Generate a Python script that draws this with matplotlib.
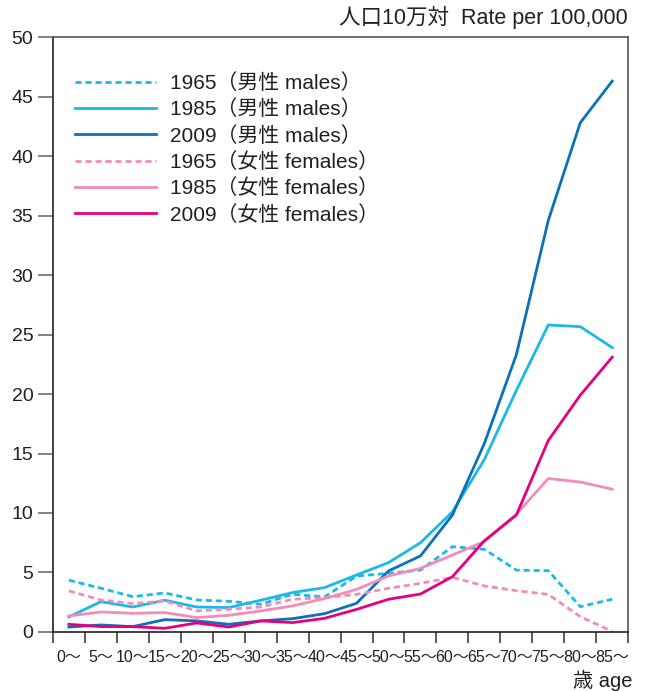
import numpy as np
import matplotlib
matplotlib.use("Agg")
import matplotlib.pyplot as plt

plt.rcParams['font.family'] = ['Liberation Sans', 'Noto Sans CJK JP', 'DejaVu Sans']

# age groups
ages = ["0", "5", "10", "15", "20", "25", "30", "35", "40",
        "45", "50", "55", "60", "65", "70", "75", "80", "85"]

# rates per 100,000
male_1965 = [4.35, 3.68, 2.97, 3.28, 2.69, 2.58, 2.33, 3.17, 2.95,
             4.7, 4.93, 5.2, 7.17, 6.95, 5.2, 5.15, 2.13, 2.75]
male_1985 = [1.26, 2.55, 2.1, 2.67, 2.1, 2.05, 2.67, 3.31, 3.73,
             4.79, 5.83, 7.5, 10.1, 14.5, 20.3, 25.8, 25.66, 23.9]
male_2009 = [0.42, 0.59, 0.45, 1.04, 0.93, 0.65, 0.93, 1.12, 1.54,
             2.41, 5.13, 6.39, 9.83, 15.85, 23.3, 34.6, 42.8, 46.3]
female_1965 = [3.45, 2.69, 2.39, 2.61, 1.77, 1.91, 2.1, 2.75, 2.89,
               3.16, 3.67, 4.09, 4.59, 3.87, 3.47, 3.16, 1.29, 0.05]
female_1985 = [1.35, 1.68, 1.57, 1.63, 1.21, 1.4, 1.77, 2.19, 2.81,
               3.58, 4.7, 5.35, 6.47, 7.6, 9.9, 12.9, 12.6, 12.0]
female_2009 = [0.65, 0.45, 0.45, 0.31, 0.76, 0.42, 0.93, 0.79, 1.15,
               1.9, 2.75, 3.19, 4.65, 7.67, 9.83, 16.1, 19.9, 23.1]

labels = ["1965（男性 males）", "1985（男性 males）", "2009（男性 males）",
          "1965（女性 females）", "1985（女性 females）", "2009（女性 females）"]

c_light = "#1ab9e8"
c_dark = "#0a72b8"
c_pink = "#f38cb8"
c_mag = "#e5007f"

fig = plt.figure(figsize=(6.45, 6.91), dpi=100)
ax = fig.add_axes([0.082, 0.0854, 0.892, 0.861])

x = np.arange(len(ages))
lw = 2.0
dash = (0, (2.2, 1.4))
ax.plot(x, male_1965, color=c_light, lw=lw, ls=dash, label=labels[0])
ax.plot(x, male_1985, color=c_light, lw=lw, label=labels[1])
ax.plot(x, male_2009, color=c_dark, lw=lw, label=labels[2])
ax.plot(x, female_1965, color=c_pink, lw=lw, ls=dash, label=labels[3])
ax.plot(x, female_1985, color=c_pink, lw=lw, label=labels[4])
ax.plot(x, female_2009, color=c_mag, lw=lw, label=labels[5])

ax.set_xlim(-0.5, len(ages) - 0.5)
ax.set_ylim(0, 50)
ax.set_yticks(np.arange(0, 51, 5))
ax.tick_params(axis='y', direction='out', length=11, width=1.2, color='#707070',
               labelsize=14, pad=3, labelcolor='#231f20')

ax.set_xticks(x)
ax.set_xticklabels([a + "～" for a in ages])
ax.set_xticks(np.arange(-0.5, len(ages), 1), minor=True)
ax.tick_params(axis='x', which='major', length=0, labelsize=11.5, pad=13,
               labelcolor='#231f20')
ax.tick_params(axis='x', which='minor', direction='out', length=8, width=1.2,
               color='#404040')

for s in ['left', 'bottom']:
    ax.spines[s].set_color('#231f20')
    ax.spines[s].set_linewidth(1.2)
for s in ['top', 'right']:
    ax.spines[s].set_color('#555555')
    ax.spines[s].set_linewidth(1.2)

leg = ax.legend(loc='upper left', bbox_to_anchor=(0.038, 0.939), frameon=False,
                fontsize=15, handlelength=3.9, handletextpad=0.65,
                labelspacing=0.31, borderaxespad=0.0, borderpad=0.0)
for t in leg.get_texts():
    t.set_color('#231f20')

fig.text(0.974, 0.958, "人口10万対  Rate per 100,000", ha='right', va='bottom',
         fontsize=15.5, color='#231f20')
fig.text(0.98, 0.0, "歳 age", ha='right', va='bottom',
         fontsize=14.5, color='#231f20')

fig.savefig("out.png", dpi=100)
